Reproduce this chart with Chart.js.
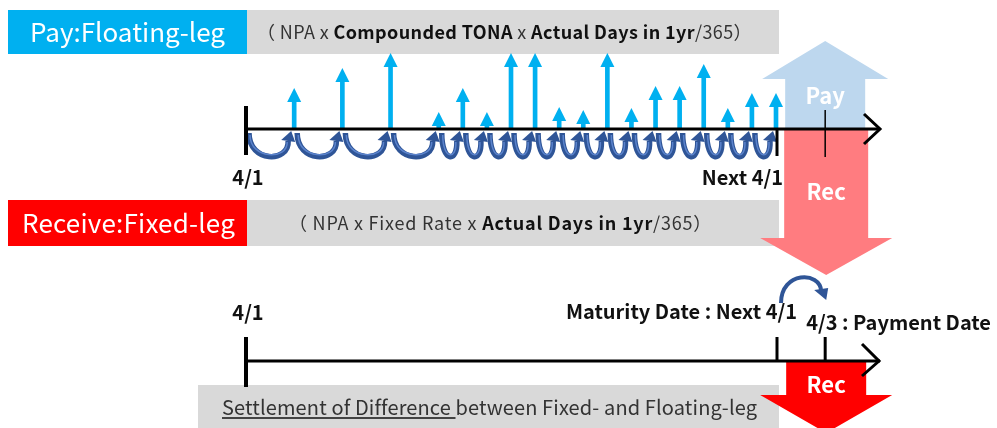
<!DOCTYPE html>
<html>
<head>
<meta charset="utf-8">
<script src="https://cdn.jsdelivr.net/npm/chart.js@4.4.1/dist/chart.umd.min.js"></script>
<style>
  html, body { margin: 0; padding: 0; background: #fff; overflow: hidden; }
</style>
</head>
<body>
<canvas id="swapChart" width="997" height="428"></canvas>
<script>
// schedule, in days counted from 4/1
const startDay = 0;
const maturityDay = 22;
const paymentDay = 24;
const fixingDays = [2, 4, 6, 8, 9, 10, 11, 12, 13, 14, 15, 16, 17, 18, 19, 20, 21, 22];
// size of each daily TONA accrual (arrow shaft)
const fixingSize = [29, 49, 64, 5, 29, 5, 64, 64, 10, 7, 64, 9, 31, 31, 53, 9, 24, 24];
const accrualDates = [startDay].concat(fixingDays);

const headerTitles = ['Pay:Floating-leg', 'Receive:Fixed-leg'];
const payFormula = [['（ NPA x ', false], ['Compounded TONA', true], [' x ', false], ['Actual Days in 1yr', true], ['/365）', false]];
const recFormula = [['（ NPA x Fixed Rate x ', false], ['Actual Days in 1yr', true], ['/365）', false]];
const dateLabels = ['4/1', 'Next 4/1', 'Maturity Date : Next 4/1', '4/3 : Payment Date'];
const settleText = [['Settlement of Difference ', false], ['between Fixed- and Floating-leg', false]];
const arrowLabels = ['Pay', 'Rec', 'Rec'];

const FONT = '"Noto Sans CJK JP", "Noto Sans", sans-serif';

function font(size, bold) {
  return (bold ? 'bold ' : '') + size + 'px ' + FONT;
}

// draw runs of normal/bold text, spread to a given width
function drawRuns(ctx, x, y, parts, size, width, color) {
  ctx.letterSpacing = '0px';
  let w = 0, n = 0;
  parts.forEach(([t, b]) => {
    ctx.font = font(size, b);
    w += ctx.measureText(t).width;
    n += t.length;
  });
  const sp = width ? (width - w) / n : 0;
  ctx.letterSpacing = sp + 'px';
  const starts = [];
  parts.forEach(([t, b]) => {
    ctx.font = font(size, b);
    ctx.fillStyle = color || (b ? '#111' : '#333');
    ctx.fillText(t, x, y);
    starts.push(x);
    x += ctx.measureText(t).width;
  });
  ctx.letterSpacing = '0px';
  starts.push(x);
  return starts;
}

function bigArrow(ctx, cx, shaftHalf, headHalf, y0, yBase, yTip, color) {
  ctx.fillStyle = color;
  ctx.beginPath();
  ctx.moveTo(cx - shaftHalf, y0);
  ctx.lineTo(cx - shaftHalf, yBase);
  ctx.lineTo(cx - headHalf, yBase);
  ctx.lineTo(cx, yTip);
  ctx.lineTo(cx + headHalf, yBase);
  ctx.lineTo(cx + shaftHalf, yBase);
  ctx.lineTo(cx + shaftHalf, y0);
  ctx.closePath();
  ctx.fill();
}

function line(ctx, x1, y1, x2, y2, w) {
  ctx.lineWidth = w;
  ctx.beginPath();
  ctx.moveTo(x1, y1);
  ctx.lineTo(x2, y2);
  ctx.stroke();
}

function curl(ctx, a, b, yTop) {
  ctx.lineCap = 'butt';
  ctx.strokeStyle = '#2F5597';
  ctx.lineWidth = 5.5;
  ctx.beginPath();
  ctx.moveTo(a + 3, yTop + 1);
  ctx.bezierCurveTo(a + 3, yTop + 31, b - 5, yTop + 31, b - 6, yTop + 9);
  ctx.stroke();
  ctx.strokeStyle = '#5B83CC';
  ctx.lineWidth = 1.5;
  ctx.beginPath();
  ctx.moveTo(a + 4, yTop + 3);
  ctx.bezierCurveTo(a + 4, yTop + 28, b - 6, yTop + 28, b - 7, yTop + 10);
  ctx.stroke();
  ctx.fillStyle = '#2F5597';
  ctx.beginPath();
  ctx.moveTo(b - 3, yTop - 1);
  ctx.lineTo(b - 13, yTop + 8);
  ctx.lineTo(b + 1, yTop + 10);
  ctx.closePath();
  ctx.fill();
}

const diagram = {
  id: 'diagram',
  beforeDatasetsDraw(chart) {
    const ctx = chart.ctx;
    const X = v => chart.scales.x.getPixelForValue(v);
    const xPay = X(paymentDay);
    ctx.save();
    ctx.textBaseline = 'middle';

    // header bands
    ctx.fillStyle = '#00B0F0';
    ctx.fillRect(8, 10, 239, 44);
    ctx.fillStyle = '#D9D9D9';
    ctx.fillRect(247, 10, 532, 44);
    ctx.fillStyle = '#FF0000';
    ctx.fillRect(8, 200, 239, 46);
    ctx.fillStyle = '#D9D9D9';
    ctx.fillRect(247, 200, 532, 46);
    ctx.fillRect(198, 385, 581, 43);

    ctx.textAlign = 'left';
    drawRuns(ctx, 30, 32, [[headerTitles[0], false]], 26, 195, '#fff');
    drawRuns(ctx, 22, 223, [[headerTitles[1], false]], 26, 213, '#fff');
    drawRuns(ctx, 257, 32, payFormula, 18, 495);
    drawRuns(ctx, 289, 223, recFormula, 18, 423);

    // settlement text
    const st = drawRuns(ctx, 222, 407, settleText, 20, 535, '#333');
    ctx.strokeStyle = '#111';
    line(ctx, 222, 418, st[1], 418, 1.5);

    // big arrows
    bigArrow(ctx, xPay + 1, 40, 63, 129, 79, 41, '#BDD7EE');
    bigArrow(ctx, xPay + 2, 42, 66, 129, 238, 275, '#FF7C80');
    bigArrow(ctx, xPay + 2, 40, 66, 362, 395, 433, '#FF0000');

    ctx.fillStyle = '#fff';
    ctx.textAlign = 'center';
    ctx.font = font(22, true);
    ctx.fillText(arrowLabels[0], xPay + 1, 96);
    ctx.fillText(arrowLabels[1], xPay + 2, 192);
    ctx.fillText(arrowLabels[2], xPay + 2, 385);
    ctx.restore();
  },
  afterDatasetsDraw(chart) {
    const ctx = chart.ctx;
    const X = v => chart.scales.x.getPixelForValue(v);
    const Y = v => chart.scales.y.getPixelForValue(v);
    const y0 = Y(0);
    ctx.save();

    // arrow heads on each fixing
    ctx.fillStyle = '#00B0F0';
    chart.getDatasetMeta(0).data.forEach(bar => {
      ctx.beginPath();
      ctx.moveTo(bar.x, bar.y - 12);
      ctx.lineTo(bar.x - 7, bar.y + 2);
      ctx.lineTo(bar.x + 7, bar.y + 2);
      ctx.closePath();
      ctx.fill();
    });

    // compounding curls
    for (let i = 1; i < accrualDates.length; i++) {
      curl(ctx, X(accrualDates[i - 1]), X(accrualDates[i]), y0 + 3);
    }

    // top timeline
    const xs = X(startDay), xm = X(maturityDay), xp = X(paymentDay);
    ctx.strokeStyle = '#000';
    ctx.lineCap = 'butt';
    line(ctx, xs, y0, 880, y0, 3);
    line(ctx, xs, y0 - 23, xs, y0 + 26, 4);
    line(ctx, xm + 1, y0, xm + 1, y0 + 27, 3);
    line(ctx, xp + 1, y0 - 19, xp + 1, y0 + 28, 1.5);
    ctx.lineWidth = 3;
    ctx.beginPath();
    ctx.moveTo(864, y0 - 15);
    ctx.lineTo(880, y0);
    ctx.lineTo(864, y0 + 15);
    ctx.stroke();

    // bottom timeline
    const yb = 361;
    line(ctx, xs, yb, 880, yb, 3);
    line(ctx, xs, yb - 24, xs, yb + 26, 4);
    line(ctx, xm + 1, yb - 24, xm + 1, yb, 3);
    line(ctx, xp + 1, yb - 24, xp + 1, yb, 3);
    ctx.beginPath();
    ctx.moveTo(862, yb - 17);
    ctx.lineTo(879, yb);
    ctx.lineTo(862, yb + 15);
    ctx.stroke();

    // payment lag arc
    ctx.strokeStyle = '#2F5597';
    ctx.lineWidth = 4;
    ctx.beginPath();
    ctx.moveTo(xm + 5, 303);
    ctx.bezierCurveTo(xm + 5, 271, xp - 4, 271, xp - 3, 291);
    ctx.stroke();
    ctx.fillStyle = '#2F5597';
    ctx.beginPath();
    ctx.moveTo(xp + 2, 300);
    ctx.lineTo(xp - 10, 290);
    ctx.lineTo(xp + 4, 288);
    ctx.closePath();
    ctx.fill();

    // date labels
    ctx.fillStyle = '#111';
    ctx.font = font(20, true);
    ctx.textBaseline = 'middle';
    ctx.textAlign = 'center';
    ctx.fillText(dateLabels[0], xs + 2, 177);
    ctx.fillText(dateLabels[0], xs + 2, 312);
    ctx.textAlign = 'right';
    ctx.fillText(dateLabels[1], xm + 7, 177);
    ctx.fillText(dateLabels[2], xm + 21, 311);
    ctx.textAlign = 'left';
    ctx.fillText(dateLabels[3], xp - 18, 322);
    ctx.restore();
  }
};

const pxPerDay = 530 / 22;
new Chart(document.getElementById('swapChart'), {
  type: 'bar',
  data: {
    datasets: [{
      data: fixingDays.map((d, i) => ({ x: d, y: fixingSize[i] })),
      backgroundColor: '#00B0F0',
      barThickness: 4,
      borderWidth: 0
    }]
  },
  options: {
    responsive: false,
    animation: false,
    devicePixelRatio: 1,
    layout: { padding: 0 },
    plugins: { legend: { display: false }, tooltip: { enabled: false } },
    scales: {
      x: { type: 'linear', display: false, offset: false, min: -246 / pxPerDay, max: 751 / pxPerDay },
      y: { display: false, min: -299, max: 129 }
    }
  },
  plugins: [diagram]
});
</script>
</body>
</html>
